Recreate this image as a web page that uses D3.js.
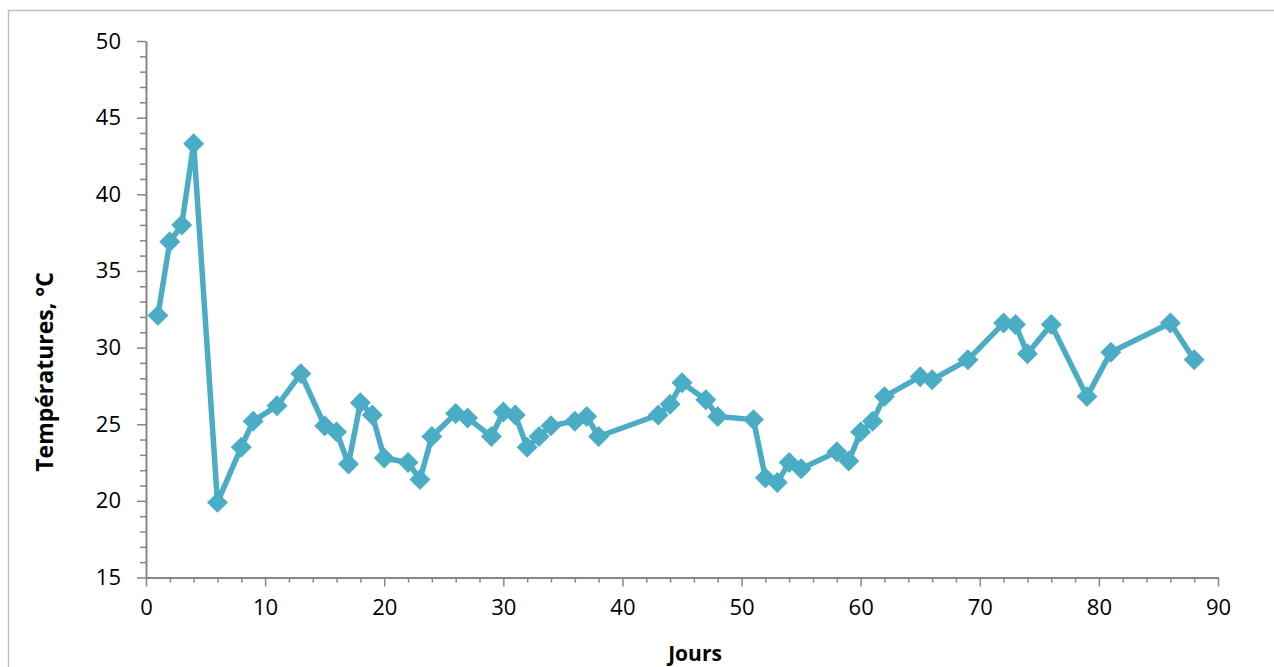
<!DOCTYPE html>
<html>
<head>
<meta charset="utf-8">
<script src="https://cdn.jsdelivr.net/npm/d3@7"></script>
<style>
  html, body { margin: 0; padding: 0; background: #fff; }
  svg { display: block; }
  .axis path, .axis line { stroke: #868686; }
  .axis text { font-family: "Open Sans", sans-serif; font-size: 22px; fill: #000; }
</style>
</head>
<body>
<svg id="chart" width="1274" height="667"></svg>
<script>
const days = [1,2,3,4,6,8,9,11,13,15,16,17,18,19,20,22,23,24,26,27,29,30,31,32,33,34,36,37,38,43,44,45,47,48,51,52,53,54,55,58,59,60,61,62,65,66,69,72,73,74,76,79,81,86,88];
const temps = [32.1,36.9,38.0,43.3,19.9,23.5,25.2,26.2,28.3,24.9,24.5,22.4,26.4,25.6,22.8,22.5,21.4,24.2,25.7,25.4,24.2,25.8,25.6,23.5,24.2,24.9,25.2,25.5,24.2,25.6,26.3,27.7,26.6,25.5,25.3,21.5,21.2,22.5,22.1,23.2,22.6,24.5,25.2,26.8,28.1,27.9,29.2,31.6,31.5,29.6,31.5,26.8,29.7,31.6,29.2];
const xMajorTicks = [0,10,20,30,40,50,60,70,80,90];
const yMajorTicks = [15,20,25,30,35,40,45,50];
const xTitle = "Jours";
const yTitle = "Températures, °C";

const svg = d3.select("#chart");
const color = "#4BACC6";

// outer chart border
svg.append("rect")
  .attr("x", 8.5).attr("y", 10.5)
  .attr("width", 1300).attr("height", 700)
  .attr("fill", "none").attr("stroke", "#bfbfbf").attr("stroke-width", 1.5);

const x = d3.scaleLinear().domain([0, 90]).range([146, 1218]);
const y = d3.scaleLinear().domain([15, 50]).range([577.5, 41]);

// minor ticks
const xMinor = d3.range(0, 91, 2).filter(v => v % 10 !== 0);
const yMinor = d3.range(15, 51, 1).filter(v => v % 5 !== 0);

const gxMinor = svg.append("g").attr("class", "axis")
  .attr("transform", `translate(0,${y(15)})`)
  .call(d3.axisBottom(x).tickValues(xMinor).tickSize(5).tickFormat(""));
gxMinor.select(".domain").remove();
gxMinor.selectAll("line").attr("stroke-width", 1.5);

const gyMinor = svg.append("g").attr("class", "axis")
  .attr("transform", `translate(${x(0)},0)`)
  .call(d3.axisLeft(y).tickValues(yMinor).tickSize(6).tickFormat(""));
gyMinor.select(".domain").remove();
gyMinor.selectAll("line").attr("stroke-width", 1.5);

const gx = svg.append("g").attr("class", "axis")
  .attr("transform", `translate(0,${y(15)})`)
  .call(d3.axisBottom(x).tickValues(xMajorTicks).tickSize(9).tickSizeOuter(0).tickPadding(13));
gx.select(".domain").attr("stroke-width", 2);
gx.selectAll("line").attr("stroke-width", 1.5);

const gy = svg.append("g").attr("class", "axis")
  .attr("transform", `translate(${x(0)},0)`)
  .call(d3.axisLeft(y).tickValues(yMajorTicks).tickSize(9).tickSizeOuter(0).tickPadding(16));
gy.select(".domain").attr("stroke-width", 2);
gy.selectAll("line").attr("stroke-width", 1.5);

// axis titles
svg.append("text")
  .attr("x", 695).attr("y", 661)
  .attr("text-anchor", "middle")
  .attr("font-family", "'Open Sans', sans-serif")
  .attr("font-weight", "bold").attr("font-size", 21)
  .text(xTitle);

svg.append("text")
  .attr("transform", `translate(53,372) rotate(-90)`)
  .attr("text-anchor", "middle")
  .attr("font-family", "'Open Sans', sans-serif")
  .attr("font-weight", "bold").attr("font-size", 23)
  .text(yTitle);

// line
const pts = days.map((d, i) => [d, temps[i]]);
svg.append("path")
  .datum(pts)
  .attr("fill", "none")
  .attr("stroke", color)
  .attr("stroke-width", 5.5)
  .attr("stroke-linejoin", "round")
  .attr("d", d3.line().x(d => x(d[0])).y(d => y(d[1])));

// markers
const diamond = d3.symbol().type(d3.symbolDiamond2).size(280);
svg.append("g").selectAll("path")
  .data(pts)
  .join("path")
  .attr("transform", d => `translate(${x(d[0])},${y(d[1])})`)
  .attr("d", diamond)
  .attr("fill", color);
</script>
</body>
</html>
